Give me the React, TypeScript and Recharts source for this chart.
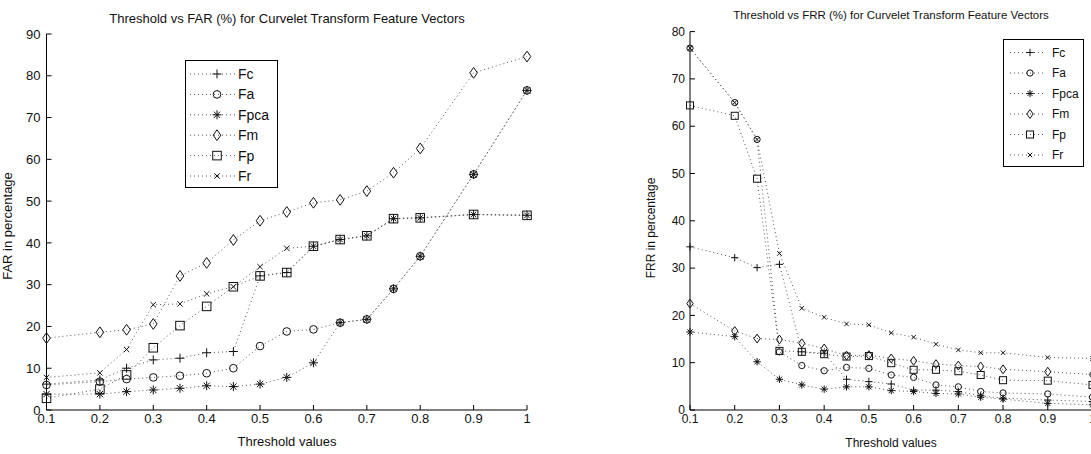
import React from "react";
import { Legend, Line, LineChart, XAxis, YAxis } from "recharts";

const thresholds = [0.1, 0.2, 0.25, 0.3, 0.35, 0.4, 0.45, 0.5, 0.55, 0.6, 0.65, 0.7, 0.75, 0.8, 0.9, 1.0];
const seriesNames = ["Fc", "Fa", "Fpca", "Fm", "Fp", "Fr"];

// FAR (%) per feature vector
const farFc = [6.2, 7.2, 10.0, 12.0, 12.4, 13.7, 14.0, 32.1, 32.9, 39.2, 40.8, 41.7, 45.8, 46.0, 46.8, 46.6];
const farFa = [6.0, 6.8, 7.4, 7.8, 8.2, 8.8, 10.0, 15.3, 18.8, 19.3, 20.9, 21.7, 29.0, 36.8, 56.4, 76.5];
const farFpca = [3.8, 3.8, 4.4, 4.8, 5.2, 5.8, 5.6, 6.2, 7.8, 11.3, 20.9, 21.7, 29.0, 36.8, 56.4, 76.5];
const farFm = [17.2, 18.6, 19.2, 20.6, 32.1, 35.2, 40.7, 45.3, 47.4, 49.6, 50.3, 52.4, 56.8, 62.6, 80.7, 84.6];
const farFp = [2.8, 5.0, 8.4, 14.9, 20.2, 24.8, 29.5, 32.1, 32.9, 39.2, 40.8, 41.7, 45.8, 46.0, 46.8, 46.6];
const farFr = [7.8, 8.9, 14.5, 25.2, 25.4, 27.8, 29.5, 34.3, 38.7, 39.2, 40.8, 41.7, 45.8, 46.0, 46.8, 46.6];

// FRR (%) per feature vector
const frrFc = [34.5, 32.2, 30.1, 30.8, 12.3, 12.0, 6.5, 6.0, 5.5, 4.2, 4.2, 3.9, 3.0, 2.5, 2.1, 1.8];
const frrFa = [76.5, 65.0, 57.2, 12.3, 9.4, 8.3, 9.0, 8.8, 7.4, 6.9, 5.3, 4.9, 3.9, 3.6, 3.4, 2.7];
const frrFpca = [16.5, 15.5, 10.2, 6.5, 5.3, 4.4, 4.9, 4.9, 4.1, 3.9, 3.5, 3.4, 2.7, 2.3, 1.4, 1.1];
const frrFm = [22.5, 16.7, 15.1, 14.9, 14.1, 13.0, 11.5, 11.6, 10.9, 10.4, 9.7, 9.4, 9.2, 8.6, 8.1, 7.5];
const frrFp = [64.4, 62.2, 48.9, 12.5, 12.3, 11.8, 11.3, 11.4, 9.9, 8.5, 8.5, 8.2, 7.4, 6.3, 6.2, 5.3];
const frrFr = [76.5, 65.0, 57.2, 33.1, 21.5, 19.6, 18.2, 18.0, 16.3, 15.4, 13.9, 12.7, 12.1, 12.1, 11.1, 10.9];

const xTicks = [0.1, 0.2, 0.3, 0.4, 0.5, 0.6, 0.7, 0.8, 0.9, 1];
const farTicks = [0, 10, 20, 30, 40, 50, 60, 70, 80, 90];
const frrTicks = [0, 10, 20, 30, 40, 50, 60, 70, 80];

function buildRows(cols: number[][]) {
  return thresholds.map((t, i) => {
    const row: Record<string, number> = { t };
    seriesNames.forEach((n, j) => (row[n] = cols[j][i]));
    return row;
  });
}

const farRows = buildRows([farFc, farFa, farFpca, farFm, farFp, farFr]);
const frrRows = buildRows([frrFc, frrFa, frrFpca, frrFm, frrFp, frrFr]);

const FONT = '"Liberation Sans", Arial, sans-serif';
const INK = "#111";
const LINE = "#555";

function Marker({ kind, cx, cy, s }: { kind: string; cx: number; cy: number; s: number }) {
  const p = { stroke: INK, strokeWidth: 1, fill: "none" };
  if (kind === "Fc")
    return (
      <g {...p}>
        <line x1={cx - s} y1={cy} x2={cx + s} y2={cy} />
        <line x1={cx} y1={cy - s} x2={cx} y2={cy + s} />
      </g>
    );
  if (kind === "Fa") return <circle cx={cx} cy={cy} r={s * 0.85} {...p} />;
  if (kind === "Fpca") {
    const d = s * 0.7;
    return (
      <g {...p}>
        <line x1={cx - s} y1={cy} x2={cx + s} y2={cy} />
        <line x1={cx} y1={cy - s} x2={cx} y2={cy + s} />
        <line x1={cx - d} y1={cy - d} x2={cx + d} y2={cy + d} />
        <line x1={cx - d} y1={cy + d} x2={cx + d} y2={cy - d} />
      </g>
    );
  }
  if (kind === "Fm")
    return (
      <polygon
        points={`${cx},${cy - s * 1.2} ${cx + s * 0.85},${cy} ${cx},${cy + s * 1.2} ${cx - s * 0.85},${cy}`}
        {...p}
      />
    );
  if (kind === "Fp") {
    const h = s * 0.95;
    return <rect x={cx - h} y={cy - h} width={2 * h} height={2 * h} {...p} />;
  }
  const d = s * 0.6;
  return (
    <g {...p}>
      <line x1={cx - d} y1={cy - d} x2={cx + d} y2={cy + d} />
      <line x1={cx - d} y1={cy + d} x2={cx + d} y2={cy - d} />
    </g>
  );
}

function makeDot(kind: string, s: number) {
  return (props: any) => (
    <g key={`${kind}-${props.index}`}>
      <Marker kind={kind} cx={props.cx} cy={props.cy} s={s} />
    </g>
  );
}

interface BoxProps {
  payload?: any[];
  w: number;
  h: number;
  y0: number;
  gap: number;
  x1: number;
  x2: number;
  mx: number;
  tx: number;
  fontSize: number;
  s: number;
}

function LegendBox({ payload, w, h, y0, gap, x1, x2, mx, tx, fontSize, s }: BoxProps) {
  const names =
    payload && payload.length
      ? payload.map((e) => String(e.value)).sort((a, b) => seriesNames.indexOf(a) - seriesNames.indexOf(b))
      : seriesNames;
  return (
    <div style={{ width: w, height: h, border: "1px solid #000", background: "#fff", boxSizing: "border-box" }}>
      <svg width={w - 2} height={h - 2} style={{ display: "block" }}>
        {names.map((n, i) => {
          const y = y0 + i * gap;
          return (
            <g key={n}>
              <line x1={x1} y1={y} x2={x2} y2={y} stroke={LINE} strokeDasharray="1 3" />
              <Marker kind={n} cx={mx} cy={y} s={s} />
              <text x={tx} y={y + fontSize * 0.36} fontSize={fontSize} fontFamily={FONT} fill={INK}>
                {n}
              </text>
            </g>
          );
        })}
      </svg>
    </div>
  );
}

const fmtX = (v: number) => (v === 1 ? "1" : v.toFixed(1));

export default function App() {
  const lines = (s: number) =>
    seriesNames.map((n) => (
      <Line
        key={n}
        dataKey={n}
        name={n}
        stroke={LINE}
        strokeWidth={1}
        strokeDasharray="1 3"
        dot={makeDot(n, s)}
        activeDot={false}
        isAnimationActive={false}
      />
    ));

  return (
    <div
      style={{
        position: "absolute",
        left: 0,
        top: 0,
        width: 1091,
        height: 454,
        overflow: "hidden",
        background: "#fff",
        fontFamily: FONT,
      }}
    >
      <div style={{ position: "absolute", left: 0, top: 0 }}>
        <LineChart width={560} height={454} data={farRows} margin={{ top: 34, right: 33, bottom: 14, left: 16.5 }}>
          <XAxis
            type="number"
            dataKey="t"
            domain={[0.1, 1]}
            ticks={xTicks}
            tickFormatter={fmtX}
            height={30}
            stroke="#000"
            tickSize={-5}
            tickMargin={9}
            tick={{ fontSize: 13, fill: INK, fontFamily: FONT }}
          />
          <YAxis
            domain={[0, 90]}
            ticks={farTicks}
            width={30}
            stroke="#000"
            tickSize={-5}
            tickMargin={11}
            tick={{ fontSize: 13, fill: INK, fontFamily: FONT }}
          />
          <Legend
            layout="vertical"
            align="center"
            verticalAlign="middle"
            wrapperStyle={{ left: 185, top: 60, width: 93, height: 128 }}
            content={(p: any) => (
              <LegendBox payload={p.payload} w={93} h={128} y0={13} gap={20.4} x1={4} x2={50} mx={31} tx={52} fontSize={14} s={4.5} />
            )}
          />
          {lines(4.5)}
        </LineChart>
      </div>

      <div style={{ position: "absolute", left: 560, top: 0 }}>
        <LineChart width={560} height={454} data={frrRows} margin={{ top: 31.6, right: 27.5, bottom: 14, left: 100 }}>
          <XAxis
            type="number"
            dataKey="t"
            domain={[0.1, 1]}
            ticks={xTicks}
            tickFormatter={fmtX}
            height={30}
            stroke="#000"
            tickSize={-5}
            tickMargin={9}
            tick={{ fontSize: 12, fill: INK, fontFamily: FONT }}
          />
          <YAxis
            domain={[0, 80]}
            ticks={frrTicks}
            width={30}
            stroke="#000"
            tickSize={-5}
            tickMargin={10}
            tick={{ fontSize: 12, fill: INK, fontFamily: FONT }}
          />
          <Legend
            layout="vertical"
            align="center"
            verticalAlign="middle"
            wrapperStyle={{ left: 443, top: 39, width: 81, height: 128 }}
            content={(p: any) => (
              <LegendBox payload={p.payload} w={81} h={128} y0={12.5} gap={20.5} x1={6} x2={42} mx={26} tx={48} fontSize={12} s={3.7} />
            )}
          />
          {lines(3.7)}
        </LineChart>
      </div>

      <svg width={1091} height={454} style={{ position: "absolute", left: 0, top: 0, pointerEvents: "none" }}>
        <g fontFamily={FONT} fill={INK}>
          <text x={287} y={23} fontSize={13} textAnchor="middle">
            Threshold vs FAR (%) for Curvelet Transform Feature Vectors
          </text>
          <text x={287} y={446} fontSize={13} textAnchor="middle">
            Threshold values
          </text>
          <text x={12} y={226} fontSize={13} textAnchor="middle" transform="rotate(-90 12 226)">
            FAR in percentage
          </text>
          <text x={891} y={19} fontSize={11.5} textAnchor="middle">
            Threshold vs FRR (%) for Curvelet Transform Feature Vectors
          </text>
          <text x={891} y={447} fontSize={12} textAnchor="middle">
            Threshold values
          </text>
          <text x={655} y={228} fontSize={12} textAnchor="middle" transform="rotate(-90 655 228)">
            FRR in percentage
          </text>
        </g>
      </svg>
    </div>
  );
}
